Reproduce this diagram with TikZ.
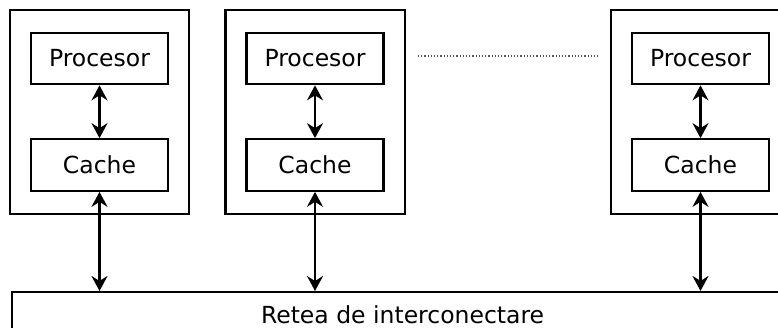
\documentclass[tikz,border=0pt]{standalone}
\usepackage{fontspec}
\setmainfont{DejaVu Sans}
\usetikzlibrary{arrows.meta,fit}

\tikzset{
unit/.style={draw,line width=2.2pt,minimum width=137pt,minimum height=51.5pt,inner sep=0pt},
sysbox/.style={draw,line width=2.2pt,inner xsep=20pt,inner ysep=22pt},
link/.style={line width=2.2pt,
  {Stealth[length=15pt,width=16pt,inset=5pt]}-{Stealth[length=15pt,width=16pt,inset=5pt]}}}

\begin{document}
\begin{tikzpicture}
  [x=1pt,y=1pt,
   every node/.style={font=\fontsize{23.5}{28}\selectfont}]
  \path[use as bounding box,clip] (0,0) rectangle (778,328);
  % the network runs off the right and bottom edges
  \node[draw,line width=2.2pt,anchor=north west,minimum width=781pt,minimum height=46pt]
    (retea) at (11,37) {Retea de interconectare};
  \foreach \i/\x in {1/99.5,2/315,3/700.5}{
    \node[unit] (proc\i) at (\x,269.5) {Procesor};
    \node[unit] (cache\i) at (\x,163) {Cache};
    \node[sysbox,fit=(proc\i)(cache\i)] (sys\i) {};
    \draw[link] (proc\i) -- (cache\i);
    \draw[link] (cache\i) -- (cache\i |- retea.north);
  }
  % dots between the 2nd and the last node
  \coordinate (dotsA) at (418,272);
  \coordinate (dotsB) at (598,272);
  \draw[dotted,gray!70!black,line width=1.2pt] (dotsA) -- (dotsB);
\end{tikzpicture}
\end{document}
